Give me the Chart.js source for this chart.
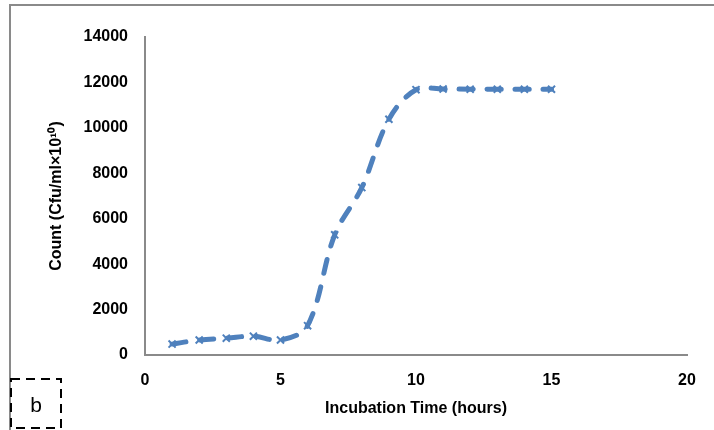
<!DOCTYPE html>
<html>
<head>
<meta charset="utf-8">
<script src="https://cdn.jsdelivr.net/npm/chart.js@4"></script>
<style>
  html, body { margin: 0; padding: 0; background: #fff; }
  #wrap { position: relative; width: 714px; height: 430px; }
  #frame { position: absolute; left: 9px; top: 4px; right: 0; bottom: 0;
           border-left: 2px solid #8a8a8a; border-top: 2px solid #8a8a8a; }
  #tag { position: absolute; left: 9px; top: 377px; width: 54px; height: 53px; }
  #tag span { position: absolute; left: 0; top: 0; width: 54px; height: 53px;
              font: 21px "Liberation Sans", sans-serif; line-height: 56px; text-align: center; }
  canvas { position: absolute; left: 0; top: 0; }
</style>
</head>
<body>
<div id="wrap">
  <div id="frame"></div>
  <canvas id="growth" width="714" height="430"></canvas>
  <div id="tag">
    <svg width="54" height="53"><rect x="2" y="2" width="50" height="49" fill="#fff"
      stroke="#000" stroke-width="2" stroke-dasharray="9 6"/></svg>
    <span>b</span>
  </div>
</div>
<script>
// incubation time (hours) and count (Cfu/ml x 10^10)
const hours = [1, 2, 3, 4, 5, 6, 7, 8, 9, 10, 11, 12, 13, 14, 15];
const counts = [480, 660, 740, 830, 660, 1290, 5290, 7370, 10380, 11680, 11710, 11700, 11700, 11700, 11700];
const xTicks = [0, 5, 10, 15, 20];
const yTicks = [0, 2000, 4000, 6000, 8000, 10000, 12000, 14000];

const blue = "#4F81BD";
const tickFont = { family: "'Liberation Sans', Arial, sans-serif", size: 16, weight: "bold" };
const titleFont = { family: "'Liberation Sans', Arial, sans-serif", size: 16, weight: "bold" };

const points = hours.map((h, i) => ({ x: h, y: counts[i] }));

new Chart(document.getElementById("growth"), {
  type: "line",
  data: {
    datasets: [{
      data: points,
      borderColor: blue,
      backgroundColor: blue,
      borderWidth: 5,
      borderDash: [14, 14],
      borderCapStyle: "round",
      tension: 0.35,
      pointStyle: "crossRot",
      pointRadius: 5,
      pointBorderWidth: 2,
      pointBorderColor: blue,
      fill: false
    }]
  },
  options: {
    responsive: false,
    animation: false,
    layout: { padding: { top: 37, right: 27, left: 0, bottom: 0 } },
    plugins: { legend: { display: false }, tooltip: { enabled: false } },
    scales: {
      x: {
        type: "linear",
        min: 0, max: 20,
        afterBuildTicks: s => { s.ticks = xTicks.map(v => ({ value: v })); },
        grid: { display: false, drawTicks: false },
        border: { display: true, color: "#8a8a8a", width: 2 },
        ticks: { color: "#000", font: tickFont, padding: 16, maxRotation: 0,
                 callback: v => String(v) },
        title: { display: true, text: "Incubation Time (hours)", color: "#000",
                 font: titleFont, padding: { top: 0, bottom: 12 } },
        afterFit: s => { s.height = 75; }
      },
      y: {
        min: 0, max: 14000,
        afterBuildTicks: s => { s.ticks = yTicks.map(v => ({ value: v })); },
        grid: { display: false, drawTicks: false },
        border: { display: true, color: "#8a8a8a", width: 2 },
        ticks: { color: "#000", font: tickFont, padding: 17,
                 callback: v => String(v) },
        title: { display: true, text: "Count (Cfu/ml×10¹⁰)", color: "#000",
                 font: titleFont, padding: { top: 47, bottom: 0 } },
        afterFit: s => { s.width = 145; }
      }
    }
  }
});
</script>
</body>
</html>
